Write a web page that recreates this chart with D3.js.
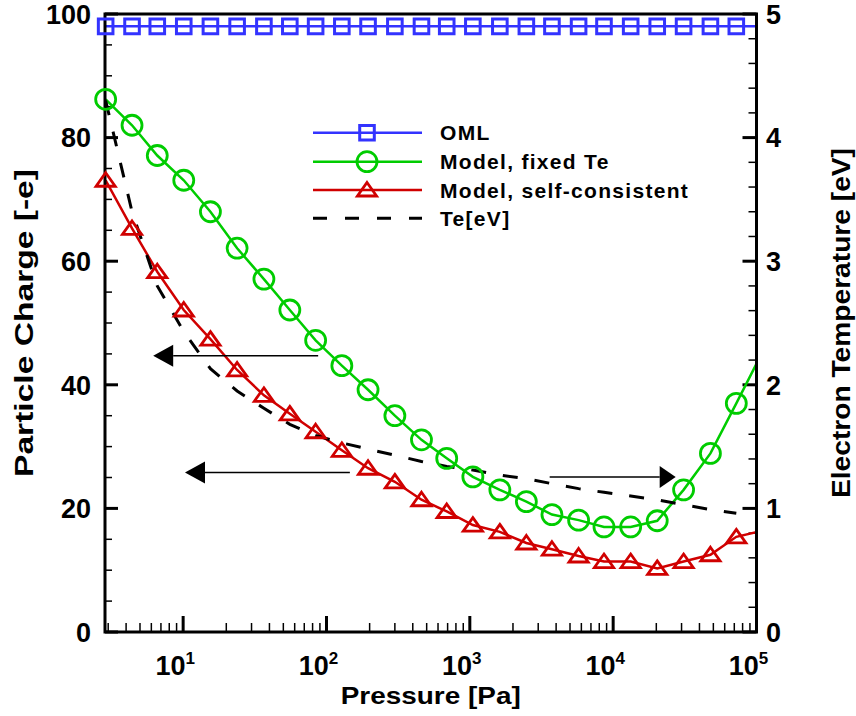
<!DOCTYPE html>
<html><head><meta charset="utf-8">
<script src="https://cdn.jsdelivr.net/npm/d3@7"></script>
<style>body{margin:0;background:#fff}svg{display:block}text{font-family:"Liberation Sans",Arial,sans-serif;font-weight:bold;fill:#000}</style>
</head><body>
<svg id="chart" width="856" height="716"></svg>
<script>
// ---- data ----
const pressure = [2.88, 4.4, 6.6, 10.1, 15.5, 23.8, 36.6, 55.5, 84, 128, 195, 300, 460, 690, 1050, 1620, 2480, 3740, 5740, 8630, 13250, 20300, 31000, 47700, 72300, 110000];
const omlCharge = [98, 98, 98, 98, 98, 98, 98, 98, 98, 98, 98, 98, 98, 98, 98, 98, 98, 98, 98, 98, 98, 98, 98, 98, 98, 98];
const fixedTeCharge = [86.2, 82, 77.1, 73.1, 68, 62.1, 57.1, 52.1, 47.2, 43.1, 39.2, 35, 31.1, 28.1, 25.1, 23, 21.1, 19, 18.1, 17, 17, 18, 23, 28.9, 37, 45.3];
const selfConsistentCharge = [73.1, 65.3, 58.3, 52.1, 47.4, 42.4, 38.3, 35.3, 32.4, 29.4, 26.5, 24.3, 21.4, 19.5, 17.3, 16.2, 14.4, 13.4, 12.3, 11.4, 11.4, 10.3, 11.4, 12.5, 15.4, 16.4];
const tePressure = [2.88, 4.4, 6.6, 10.1, 15.5, 23.8, 36.6, 55.5, 84, 128, 195, 300, 460, 690, 1050, 1620, 2480, 3740, 5740, 8630, 13250, 20300, 31000, 47700, 72300];
const teValues = [4.30, 3.40, 2.80, 2.43, 2.13, 1.95, 1.81, 1.68, 1.59, 1.53, 1.48, 1.43, 1.38, 1.34, 1.31, 1.27, 1.24, 1.20, 1.16, 1.13, 1.10, 1.07, 1.03, 0.99, 0.96];
const seriesNames = ["OML", "Model, fixed Te", "Model, self-consistent", "Te[eV]"];
const leftTicks = [0, 20, 40, 60, 80, 100];
const rightTicks = [0, 1, 2, 3, 4, 5];
const xTickExponents = [1, 2, 3, 4, 5];
// annotation arrows: [start pressure, end pressure, level, axis]
const arrowFrom = [87.5, 145.6, 3606];
const arrowTo = [6.18, 10.3, 27300];
const arrowLevel = [44.7, 25.8, 1.255];
const arrowAxis = ["left", "left", "right"];

// ---- layout ----
const L = 105, R = 756.5, T = 14, B = 632;
const svg = d3.select("#chart");
const xDomain = [2.85, 1e5];
const x = d3.scaleLog().domain(xDomain).range([L, R]);
const y = d3.scaleLinear().domain([0, 100]).range([B, T]);
const y2 = d3.scaleLinear().domain([0, 5]).range([B, T]);

const blue = "#3333ff", green = "#00cc00", red = "#d00000";

svg.append("defs").append("clipPath").attr("id", "clip")
  .append("rect").attr("x", L).attr("y", T - 20).attr("width", R - L).attr("height", B - T + 20);

// ticks
const tk = svg.append("g").attr("stroke", "#000");
d3.range(0, 100.1, 5).forEach(v => {
  const major = v % 20 === 0;
  tk.append("line").attr("x1", L).attr("x2", L + (major ? 13 : 7)).attr("y1", y(v)).attr("y2", y(v)).attr("stroke-width", major ? 3 : 1.5);
});
d3.range(0, 5.01, 0.2).forEach(v => {
  const major = Math.abs(v - Math.round(v)) < 1e-6;
  tk.append("line").attr("x1", R).attr("x2", R - (major ? 14 : 8)).attr("y1", y2(v)).attr("y2", y2(v)).attr("stroke-width", major ? 3 : 1.5);
});
x.ticks().filter(v => v >= xDomain[0] && v <= xDomain[1]).forEach(v => {
  const major = Math.abs(Math.log10(v) - Math.round(Math.log10(v))) < 1e-9;
  tk.append("line").attr("x1", x(v)).attr("x2", x(v)).attr("y1", B).attr("y2", B - (major ? 16 : 9)).attr("stroke-width", major ? 3 : 1.5);
});

// tick labels
svg.append("g").selectAll("text").data(leftTicks).join("text")
  .attr("x", 91).attr("y", d => y(d)).attr("dy", "0.36em").attr("text-anchor", "end")
  .style("font-size", "27px").text(d => d);
svg.append("g").selectAll("text").data(rightTicks).join("text")
  .attr("x", 766).attr("y", d => y2(d)).attr("dy", "0.36em").attr("text-anchor", "start")
  .style("font-size", "27px").text(d => d);
const xl = svg.append("g").selectAll("text").data(xTickExponents).join("text")
  .attr("x", d => x(Math.pow(10, d)) - 8).attr("y", 675).attr("text-anchor", "middle")
  .style("font-size", "27px");
xl.append("tspan").text("10");
xl.append("tspan").attr("dy", -11).style("font-size", "17px").text(d => d);

// axis titles
svg.append("text").attr("transform", `translate(33,${(T + B) / 2}) rotate(-90)`).attr("text-anchor", "middle")
  .style("font-size", "25px").attr("textLength", 308).attr("lengthAdjust", "spacingAndGlyphs").text("Particle Charge [-e]");
svg.append("text").attr("transform", `translate(850,${(T + B) / 2}) rotate(-90)`).attr("text-anchor", "middle")
  .style("font-size", "25px").attr("textLength", 350).attr("lengthAdjust", "spacingAndGlyphs").text("Electron Temperature [eV]");
svg.append("text").attr("x", (L + R) / 2).attr("y", 704).attr("text-anchor", "middle")
  .style("font-size", "24px").attr("textLength", 180).attr("lengthAdjust", "spacingAndGlyphs").text("Pressure [Pa]");

// series lines (clipped to the plot area)
const plot = svg.append("g").attr("clip-path", "url(#clip)");
const lineL = d3.line().x((d, i) => x(pressure[i])).y(d => y(d));
const squarePath = "M-7.3,-7.3H7.3V7.3H-7.3Z";
const triPath = "M0,-7.5L9.6,6L-9.6,6Z";

plot.append("path").datum(omlCharge).attr("d", lineL).attr("fill", "none").attr("stroke", blue).attr("stroke-width", 2.5);
plot.append("path").datum(fixedTeCharge).attr("d", lineL).attr("fill", "none").attr("stroke", green).attr("stroke-width", 2.5);
plot.append("path").datum(selfConsistentCharge).attr("d", lineL).attr("fill", "none").attr("stroke", red).attr("stroke-width", 2.5);
plot.append("path").datum(teValues)
  .attr("d", d3.line().x((d, i) => x(tePressure[i])).y(d => y2(d)))
  .attr("fill", "none").attr("stroke", "#000").attr("stroke-width", 3).attr("stroke-dasharray", "15,17");

// markers: only those whose centre lies inside the pressure range
const inRange = (arr) => arr.map((v, i) => ({p: pressure[i], v})).filter(d => d.p <= xDomain[1]);
const mk = svg.append("g");
mk.append("g").selectAll("path").data(inRange(omlCharge)).join("path")
  .attr("transform", d => `translate(${x(d.p)},${y(d.v)})`).attr("d", squarePath)
  .attr("fill", "none").attr("stroke", blue).attr("stroke-width", 3);
mk.append("g").selectAll("circle").data(inRange(fixedTeCharge)).join("circle")
  .attr("cx", d => x(d.p)).attr("cy", d => y(d.v)).attr("r", 10)
  .attr("fill", "none").attr("stroke", green).attr("stroke-width", 2.8);
mk.append("g").selectAll("path").data(inRange(selfConsistentCharge)).join("path")
  .attr("transform", d => `translate(${x(d.p)},${y(d.v)})`).attr("d", triPath)
  .attr("fill", "none").attr("stroke", red).attr("stroke-width", 2.8);

// arrows
arrowFrom.forEach((p0, i) => {
  const yy = arrowAxis[i] === "left" ? y(arrowLevel[i]) : y2(arrowLevel[i]);
  const x0 = x(p0), x1 = x(arrowTo[i]);
  const dir = Math.sign(x1 - x0), hl = arrowAxis[i] === "left" ? 20 : 16, hw = 11;
  svg.append("line").attr("x1", x0).attr("x2", x1 - dir * hl).attr("y1", yy).attr("y2", yy)
    .attr("stroke", "#000").attr("stroke-width", 1.5);
  svg.append("path").attr("d", `M${x1},${yy}L${x1 - dir * hl},${yy - hw}L${x1 - dir * hl},${yy + hw}Z`).attr("fill", "#000");
});

// frame
svg.append("rect").attr("x", L).attr("y", T).attr("width", R - L).attr("height", B - T)
  .attr("fill", "none").attr("stroke", "#000").attr("stroke-width", 3);
// keep left-edge markers above the frame like the reference
svg.node().appendChild(mk.node());

// legend
const legY = [132.7, 161.7, 190, 218.3];
const lg = svg.append("g");
const legColors = [blue, green, red, "#000"];
seriesNames.forEach((name, i) => {
  const ln = lg.append("line").attr("x1", 313).attr("x2", 422).attr("y1", legY[i]).attr("y2", legY[i])
    .attr("stroke", legColors[i]).attr("stroke-width", i === 3 ? 3 : 2.5);
  if (i === 3) ln.attr("stroke-dasharray", "14,18");
  if (i === 0) lg.append("path").attr("transform", `translate(367,${legY[i]})`).attr("d", squarePath).attr("fill", "none").attr("stroke", blue).attr("stroke-width", 3);
  if (i === 1) lg.append("circle").attr("cx", 367).attr("cy", legY[i]).attr("r", 10).attr("fill", "none").attr("stroke", green).attr("stroke-width", 2.8);
  if (i === 2) lg.append("path").attr("transform", `translate(367,${legY[i]})`).attr("d", triPath).attr("fill", "none").attr("stroke", red).attr("stroke-width", 2.8);
  lg.append("text").attr("x", 440).attr("y", legY[i]).attr("dy", "0.36em").style("font-size", "21px")
    .style("letter-spacing", "1.3px").text(name);
});
</script>
</body></html>
